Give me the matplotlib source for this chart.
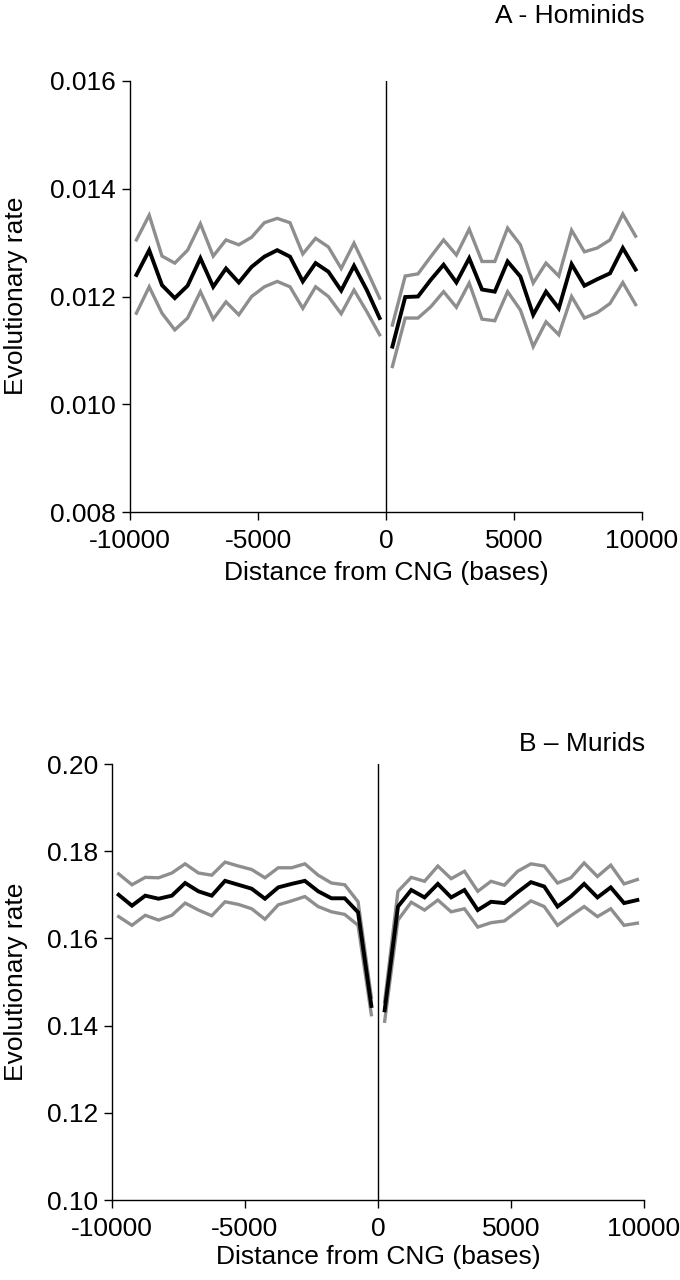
import numpy as np
import matplotlib
matplotlib.use("Agg")
import matplotlib.pyplot as plt

plt.rcParams['font.family'] = ['Liberation Sans', 'DejaVu Sans']
plt.rcParams['axes.unicode_minus'] = False

# Bin centres (bases)
x_left = [-9750, -9250, -8750, -8250, -7750, -7250, -6750, -6250, -5750, -5250,
          -4750, -4250, -3750, -3250, -2750, -2250, -1750, -1250, -750, -250]
x_right = [250, 750, 1250, 1750, 2250, 2750, 3250, 3750, 4250, 4750,
           5250, 5750, 6250, 6750, 7250, 7750, 8250, 8750, 9250, 9750]

# Panel A - Hominids
a_mean_left = [0.01240, 0.01286, 0.01221, 0.01197, 0.01220, 0.01271, 0.01218, 0.01252, 0.01226, 0.01255,
               0.01274, 0.01286, 0.01274, 0.01228, 0.01262, 0.01246, 0.01211, 0.01257, 0.01212, 0.01160]
a_upper_left = [0.01305, 0.01351, 0.01275, 0.01262, 0.01286, 0.01335, 0.01275, 0.01305, 0.01296, 0.01310,
                0.01337, 0.01345, 0.01337, 0.01279, 0.01308, 0.01292, 0.01252, 0.01299, 0.01249, 0.01197]
a_lower_left = [0.01169, 0.01218, 0.01169, 0.01138, 0.01160, 0.01209, 0.01158, 0.01190, 0.01166, 0.01200,
                0.01218, 0.01228, 0.01218, 0.01178, 0.01218, 0.01200, 0.01168, 0.01212, 0.01172, 0.01129]
a_mean_right = [0.01107, 0.01199, 0.01200, 0.01231, 0.01259, 0.01226, 0.01271, 0.01213, 0.01209, 0.01265,
                0.01237, 0.01166, 0.01209, 0.01178, 0.01260, 0.01220, 0.01232, 0.01243, 0.01290, 0.01250]
a_upper_right = [0.01147, 0.01238, 0.01242, 0.01274, 0.01305, 0.01277, 0.01325, 0.01265, 0.01265, 0.01327,
                 0.01296, 0.01225, 0.01262, 0.01238, 0.01323, 0.01283, 0.01290, 0.01305, 0.01353, 0.01312]
a_lower_right = [0.01070, 0.01160, 0.01160, 0.01181, 0.01209, 0.01180, 0.01225, 0.01158, 0.01155, 0.01209,
                 0.01175, 0.01107, 0.01153, 0.01129, 0.01200, 0.01160, 0.01170, 0.01187, 0.01226, 0.01185]

# Panel B - Murids
b_mean_left = [0.1700, 0.1675, 0.1698, 0.1691, 0.1698, 0.1727, 0.1708, 0.1698, 0.1732, 0.1723,
               0.1714, 0.1691, 0.1717, 0.1725, 0.1732, 0.1708, 0.1692, 0.1692, 0.1660, 0.1445]
b_upper_left = [0.1748, 0.1723, 0.1740, 0.1739, 0.1750, 0.1771, 0.1750, 0.1745, 0.1775, 0.1766,
                0.1758, 0.1739, 0.1762, 0.1762, 0.1771, 0.1745, 0.1727, 0.1723, 0.1684, 0.1465]
b_lower_left = [0.1650, 0.1630, 0.1653, 0.1642, 0.1653, 0.1681, 0.1665, 0.1652, 0.1684, 0.1678,
                0.1668, 0.1644, 0.1677, 0.1686, 0.1696, 0.1673, 0.1661, 0.1655, 0.1630, 0.1425]
b_mean_right = [0.1435, 0.1673, 0.1711, 0.1694, 0.1725, 0.1694, 0.1711, 0.1665, 0.1684, 0.1681,
                0.1706, 0.1729, 0.1719, 0.1673, 0.1696, 0.1725, 0.1694, 0.1717, 0.1681, 0.1688]
b_upper_right = [0.1455, 0.1708, 0.1740, 0.1731, 0.1766, 0.1737, 0.1754, 0.1708, 0.1731, 0.1722,
                 0.1754, 0.1771, 0.1766, 0.1727, 0.1739, 0.1773, 0.1742, 0.1768, 0.1725, 0.1735]
b_lower_right = [0.1410, 0.1642, 0.1683, 0.1665, 0.1688, 0.1661, 0.1668, 0.1626, 0.1636, 0.1640,
                 0.1663, 0.1686, 0.1673, 0.1630, 0.1652, 0.1673, 0.1650, 0.1668, 0.1630, 0.1635]

x_ticks = [-10000, -5000, 0, 5000, 10000]
a_yticks = [0.008, 0.010, 0.012, 0.014, 0.016]
b_yticks = [0.10, 0.12, 0.14, 0.16, 0.18, 0.20]

W, H = 680, 1280
fig = plt.figure(figsize=(W / 100, H / 100), dpi=100)

GREY = '#8e8e8e'
FS = 19


def setup(ax, yticks, fmt, labelpad):
    for s in ['top', 'right']:
        ax.spines[s].set_visible(False)
    for s in ['left', 'bottom']:
        ax.spines[s].set_linewidth(1.0)
    ax.set_xlim(-10000, 10000)
    ax.set_ylim(yticks[0], yticks[-1])
    ax.set_xticks(x_ticks)
    ax.set_xticklabels([str(t) for t in x_ticks])
    ax.set_yticks(yticks)
    ax.set_yticklabels([fmt % t for t in yticks])
    ax.tick_params(axis='both', direction='out', length=6, width=1.0, labelsize=FS)
    ax.tick_params(axis='x', pad=6)
    ax.tick_params(axis='y', pad=4)
    ax.axvline(0, color='black', lw=1.0)
    ax.set_xlabel('Distance from CNG (bases)', fontsize=FS, labelpad=labelpad)


def draw(ax, xl, ml, ul, ll, xr, mr, ur, lr):
    for xs, m, u, l in [(xl, ml, ul, ll), (xr, mr, ur, lr)]:
        ax.plot(xs, u, color=GREY, lw=2.4, solid_joinstyle='miter')
        ax.plot(xs, l, color=GREY, lw=2.4, solid_joinstyle='miter')
        ax.plot(xs, m, color='black', lw=2.8, solid_joinstyle='miter')


# Panel A
axA = fig.add_axes([130 / W, 1 - 512 / H, 512 / W, 431 / H])
setup(axA, a_yticks, '%.3f', 6)
draw(axA, x_left, a_mean_left, a_upper_left, a_lower_left,
     x_right, a_mean_right, a_upper_right, a_lower_right)

# Panel B
axB = fig.add_axes([112 / W, 1 - 1200 / H, 532 / W, 436 / H])
setup(axB, b_yticks, '%.2f', 3)
draw(axB, x_left, b_mean_left, b_upper_left, b_lower_left,
     x_right, b_mean_right, b_upper_right, b_lower_right)

fig.text(645 / W, 1 - 16 / H, 'A - Hominids', ha='right', va='center', fontsize=FS)
fig.text(645 / W, 1 - 744 / H, 'B \u2013 Murids', ha='right', va='center', fontsize=FS)
fig.text(16 / W, 1 - 296 / H, 'Evolutionary rate', rotation=90, ha='center', va='center', fontsize=FS)
fig.text(16 / W, 1 - 982 / H, 'Evolutionary rate', rotation=90, ha='center', va='center', fontsize=FS)

fig.savefig('out.png', dpi=100)
